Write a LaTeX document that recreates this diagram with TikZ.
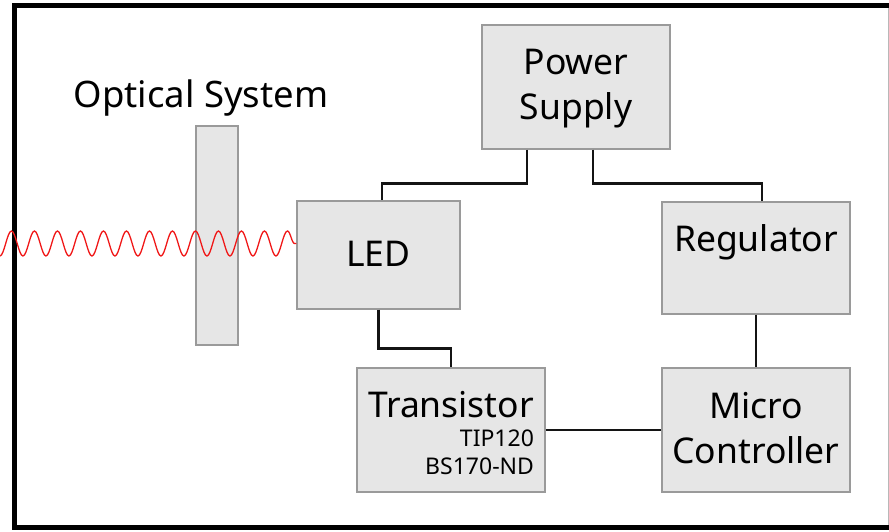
\documentclass[tikz,border=0pt]{standalone}
\usepackage{fontspec}
\setmainfont{Noto Sans}
\usetikzlibrary{calc,decorations.pathmorphing}
\definecolor{ink}{HTML}{141414}
\definecolor{boxfill}{HTML}{E6E6E6}
\definecolor{boxline}{HTML}{9A9A9A}
\definecolor{wavered}{HTML}{F01818}
\newcommand{\labelsize}{\fontsize{35.5}{44.5}\selectfont}
\newcommand{\partsize}{\fontsize{23}{28.5}\selectfont}

\begin{document}
\begin{tikzpicture}[x=1pt,y=-1pt,
    blk/.style={fill=boxfill,draw=boxline,line width=1.2pt,inner sep=0pt,align=center,font=\labelsize},
    wire/.style={draw=ink,line width=2.8pt},
    wave/.style={draw=wavered,line width=1.3pt,decorate,decoration={snake,segment length=23pt,amplitude=12.5pt}}]
      \useasboundingbox (0,0) rectangle (889,532);
      \draw[line width=5pt] (900,5.8) -- (14.5,5.8) -- (14.5,527.5) -- (900,527.5);
      \draw[boxline!70,line width=1pt] (888,8) -- (888,525);
      \node[blk,minimum width=42pt,minimum height=219pt] (lens) at (217,235.5) {};
      \node[font=\fontsize{36.5}{44}\selectfont,anchor=base] (optlbl) at (201,108) {Optical System};
      \node[blk,minimum width=188pt,minimum height=124pt,text height=69.5pt,text depth=4.5pt] (ps) at (576,87) {Power\\Supply};
      \node[blk,minimum width=163pt,minimum height=108pt,text height=25pt,text depth=3pt] (led) at (378.5,255) {LED};
      \node[blk,minimum width=188pt,minimum height=112pt,text height=23pt,text depth=36pt] (reg) at (756,258) {Regulator};
      \node[blk,minimum width=188pt,minimum height=124pt,text height=69.5pt,text depth=3.5pt] (mc) at (756,430) {Micro\\Controller};
      \node[blk,minimum width=188pt,minimum height=124pt,align=right,font=\partsize,text height=89pt,text depth=0pt] (tr) at (451,430) {{\labelsize Transistor}\\TIP120\\BS170-ND};
      \coordinate (src) at (-18.75,243.5);
      \draw[wave] (src) -- ($(led.west)+(0,-11.5)$);
      \draw[wire] ($(ps.south)+(-49,0)$) -- ++(0,34) -| ($(led.north)+(3.5,0)$);
      \draw[wire] ($(ps.south)+(17,0)$) -- ++(0,34) -| ($(reg.north)+(6,0)$);
      \draw[wire] (led.south) -- ++(0,39) -| (tr.north);
      \foreach \u/\v in {reg/mc,tr/mc}{\draw[wire] (\u) -- (\v);}
    \end{tikzpicture}
\end{document}
